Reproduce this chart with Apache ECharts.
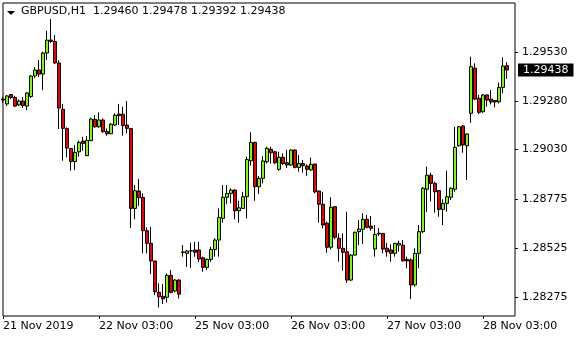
<!DOCTYPE html>
<html><head><meta charset="utf-8">
<script src="https://cdn.jsdelivr.net/npm/echarts@6/dist/echarts.min.js"></script>
<style>html,body{margin:0;padding:0;background:#fff}#c{width:580px;height:340px}</style>
</head><body><div id="c"></div>
<script>
const symbolTitle = 'GBPUSD,H1';
const headerOHLC = ['1.29460', '1.29478', '1.29392', '1.29438'];
const xTickLabels = ['21 Nov 2019', '22 Nov 03:00', '25 Nov 03:00', '26 Nov 03:00', '27 Nov 03:00', '28 Nov 03:00'];
const barsPerTick = 24;
const totalSlots = 129;
const yTickValues = [1.28275, 1.28525, 1.28775, 1.29030, 1.29280, 1.29530];
const yMin = 1.28178, yMax = 1.29781;
const lastPrice = 1.29438;

const opens = [1.29289,1.29264,1.29312,1.29297,1.29259,1.29279,1.29253,1.29302,1.29407,1.29438,
1.29417,1.29525,1.29591,1.29584,1.29474,1.29237,1.29138,1.29036,1.28969,1.29019,
1.29074,1.28999,1.29076,1.29185,1.29147,1.29182,1.29123,1.29111,1.29156,1.29212,
1.29211,1.29156,1.29138,1.28729,1.28818,1.28785,1.28615,1.28550,1.28460,1.28299,
1.28279,1.28274,1.28386,1.28306,1.28362,1.28506,1.28499,1.28511,1.28516,1.28516,
1.28476,1.28427,1.28468,1.28519,1.28567,1.28678,1.28786,1.28806,1.28823,1.28717,
1.28729,1.28789,1.28973,1.29067,1.28840,1.28883,1.28968,1.29032,1.29019,1.28929,
1.28991,1.28963,1.28951,1.29028,1.28939,1.28959,1.28946,1.28926,1.28956,1.28818,
1.28750,1.28653,1.28530,1.28738,1.28576,1.28525,1.28507,1.28362,1.28490,1.28610,
1.28622,1.28673,1.28639,1.28521,1.28602,1.28601,1.28525,1.28516,1.28499,1.28541,
1.28541,1.28468,1.28465,1.28337,1.28499,1.28610,1.28827,1.28899,1.28857,1.28820,
1.28724,1.28755,1.28786,1.28827,1.29050,1.29151,1.29050,1.29216,1.29447,1.29293,
1.29224,1.29310,1.29289,1.29282,1.29275,1.29349,1.29460];

const closes = [1.29284,1.29305,1.29297,1.29253,1.29279,1.29256,1.29320,1.29407,1.29438,1.29417,
1.29525,1.29591,1.29584,1.29474,1.29243,1.29139,1.29038,1.28969,1.29016,1.29067,
1.29062,1.29078,1.29187,1.29147,1.29182,1.29122,1.29111,1.29160,1.29206,1.29204,
1.29153,1.29139,1.28729,1.28820,1.28784,1.28615,1.28550,1.28460,1.28302,1.28277,
1.28266,1.28386,1.28299,1.28362,1.28290,1.28503,1.28511,1.28512,1.28504,1.28470,
1.28427,1.28468,1.28519,1.28567,1.28683,1.28786,1.28806,1.28823,1.28717,1.28732,
1.28789,1.28980,1.29067,1.28840,1.28883,1.28972,1.29037,1.29014,1.28963,1.28991,
1.28959,1.28951,1.29028,1.28939,1.28959,1.28948,1.28929,1.28955,1.28814,1.28750,
1.28644,1.28530,1.28735,1.28581,1.28525,1.28504,1.28362,1.28490,1.28607,1.28623,
1.28673,1.28632,1.28627,1.28596,1.28598,1.28521,1.28507,1.28499,1.28550,1.28550,
1.28461,1.28460,1.28337,1.28499,1.28610,1.28832,1.28899,1.28857,1.28814,1.28724,
1.28755,1.28789,1.28832,1.29042,1.29147,1.29054,1.29110,1.29455,1.29289,1.29221,
1.29310,1.29284,1.29274,1.29274,1.29349,1.29458,1.29438];

const lows = [1.29269,1.29253,1.29289,1.29248,1.29253,1.29243,1.29233,1.29294,1.29397,1.29402,
1.29335,1.29489,1.29576,1.29469,1.29136,1.28973,1.28991,1.28922,1.28926,1.28994,
1.29024,1.28997,1.29074,1.29142,1.29142,1.29117,1.29101,1.29111,1.29151,1.29156,
1.29101,1.29114,1.28629,1.28673,1.28741,1.28499,1.28499,1.28393,1.28285,1.28222,
1.28239,1.28248,1.28294,1.28299,1.28268,1.28482,1.28430,1.28425,1.28482,1.28454,
1.28405,1.28413,1.28456,1.28482,1.28482,1.28656,1.28751,1.28755,1.28673,1.28656,
1.28726,1.28678,1.28948,1.28768,1.28803,1.28857,1.28959,1.28959,1.28956,1.28922,
1.28951,1.28936,1.28948,1.28934,1.28917,1.28912,1.28896,1.28922,1.28806,1.28656,
1.28627,1.28502,1.28519,1.28571,1.28456,1.28410,1.28348,1.28357,1.28488,1.28541,
1.28547,1.28627,1.28615,1.28482,1.28588,1.28499,1.28482,1.28456,1.28482,1.28507,
1.28456,1.28422,1.28265,1.28328,1.28422,1.28603,1.28710,1.28765,1.28707,1.28686,
1.28644,1.28712,1.28772,1.28814,1.29045,1.29014,1.28874,1.29168,1.29284,1.29212,
1.29219,1.29250,1.29262,1.29247,1.29267,1.29318,1.29392];

const highs = [1.29299,1.29310,1.29315,1.29305,1.29287,1.29299,1.29325,1.29412,1.29453,1.29489,
1.29532,1.29639,1.29699,1.29617,1.29489,1.29264,1.29144,1.29038,1.29054,1.29076,
1.29096,1.29100,1.29193,1.29207,1.29221,1.29190,1.29139,1.29165,1.29216,1.29264,
1.29250,1.29279,1.29142,1.28849,1.28880,1.28806,1.28632,1.28635,1.28460,1.28345,
1.28342,1.28396,1.28413,1.28367,1.28367,1.28541,1.28516,1.28553,1.28558,1.28558,
1.28482,1.28473,1.28533,1.28576,1.28729,1.28849,1.28849,1.28832,1.28827,1.28768,
1.28814,1.28994,1.29119,1.29071,1.28895,1.28997,1.29045,1.29045,1.29024,1.29019,
1.29011,1.29028,1.29032,1.29032,1.29002,1.28977,1.28955,1.28989,1.28959,1.28820,
1.28814,1.28661,1.28786,1.28740,1.28601,1.28601,1.28712,1.28495,1.28610,1.28670,
1.28704,1.28695,1.28690,1.28644,1.28629,1.28603,1.28553,1.28545,1.28553,1.28563,
1.28567,1.28482,1.28473,1.28525,1.28644,1.28839,1.28943,1.28912,1.28866,1.28823,
1.28776,1.28922,1.28837,1.29147,1.29151,1.29156,1.29114,1.29506,1.29472,1.29310,
1.29315,1.29313,1.29335,1.29284,1.29373,1.29503,1.29478];

const categories = [];
for (let i = 0; i < totalSlots; i++) categories.push(String(i));
const ohlc = opens.map((o, i) => [o, closes[i], lows[i], highs[i]]);

const FONT = 'DejaVu Sans';
const chart = echarts.init(document.getElementById('c'), null, {renderer: 'canvas'});
chart.setOption({
  animation: false,
  backgroundColor: '#fff',
  title: {
    text: symbolTitle + '  ' + headerOHLC.join(' '),
    left: 21, top: 6, padding: 0,
    textStyle: {fontFamily: FONT, fontSize: 11, fontWeight: 'normal', color: '#000'}
  },
  graphic: [{
    type: 'polygon', shape: {points: [[7, 11], [15, 11], [11, 15]]},
    style: {fill: '#000'}
  }],
  grid: {left: 3, right: 65, top: 3, bottom: 24, show: true, borderColor: '#000', borderWidth: 1, backgroundColor: 'transparent'},
  xAxis: {
    type: 'category', data: categories, boundaryGap: false,
    axisLine: {show: false},
    axisTick: {show: true, length: 3, lineStyle: {color: '#000'}, interval: (i) => i % barsPerTick === 0},
    axisLabel: {
      interval: (i) => i % barsPerTick === 0,
      formatter: (v, i) => xTickLabels[Math.round(i / barsPerTick)] || '',
      align: 'left', margin: 5, color: '#000', fontFamily: FONT, fontSize: 11
    },
    splitLine: {show: false}
  },
  yAxis: [{
    type: 'value', position: 'right', min: yMin, max: yMax, scale: true,
    axisLine: {show: false},
    axisTick: {show: true, length: 3, lineStyle: {color: '#000'}, customValues: yTickValues},
    axisLabel: {customValues: yTickValues, formatter: (v) => v.toFixed(5), margin: 7, color: '#000', fontFamily: FONT, fontSize: 11},
    splitLine: {show: false}
  }, {
    type: 'value', position: 'right', min: yMin, max: yMax, scale: true,
    axisLine: {show: false},
    axisTick: {show: false},
    axisLabel: {
      customValues: [lastPrice], formatter: (v) => v.toFixed(5), margin: 3,
      color: '#fff', backgroundColor: '#000', padding: [1, 5, 0, 5], lineHeight: 12,
      fontFamily: FONT, fontSize: 11
    },
    splitLine: {show: false}
  }],
  series: [{
    type: 'candlestick', data: ohlc, barWidth: 3, yAxisIndex: 0,
    itemStyle: {color: '#7CFC00', color0: '#F00000', borderColor: '#000', borderColor0: '#000', borderWidth: 1}
  }]
});
</script>
</body></html>
